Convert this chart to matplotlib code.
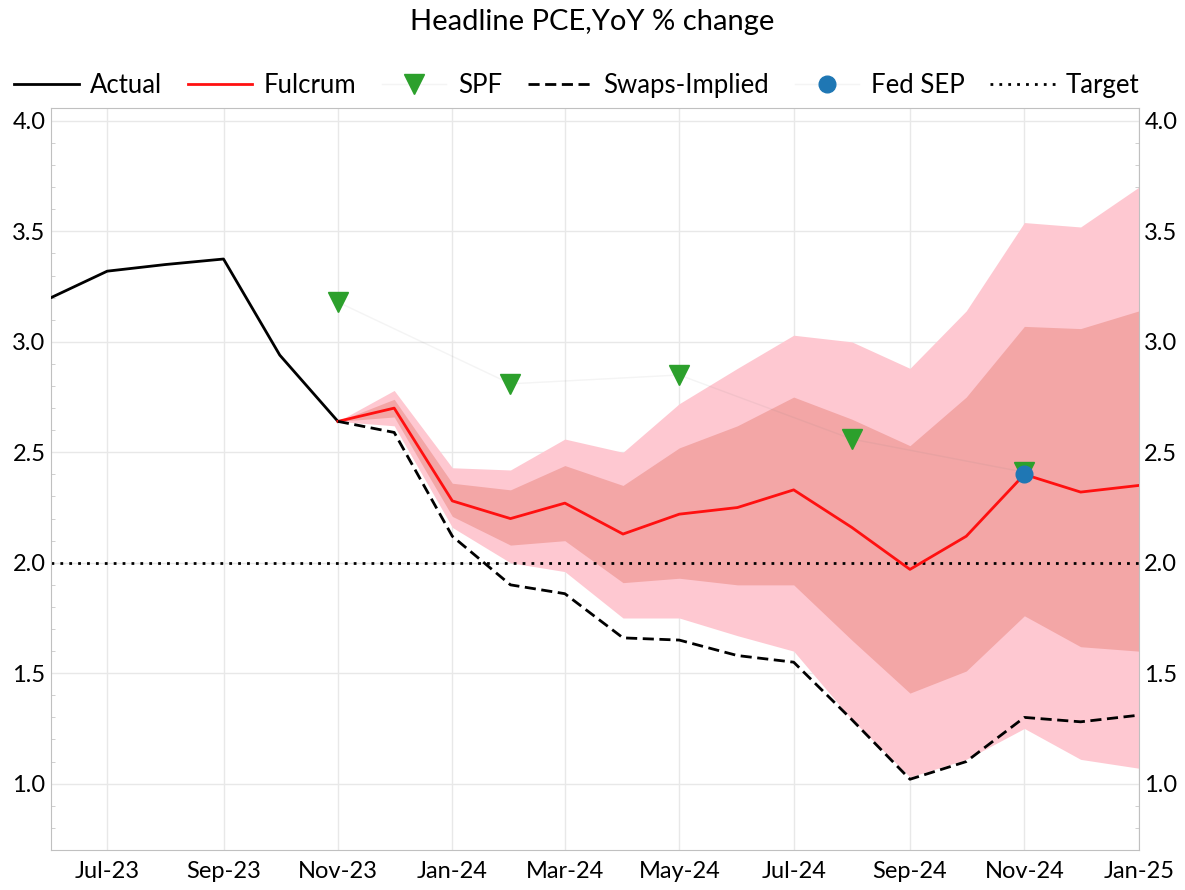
import matplotlib
matplotlib.use("Agg")
import matplotlib.pyplot as plt
import matplotlib.dates as mdates
import matplotlib.ticker as ticker
import pandas as pd

plt.rcParams['font.family'] = ['Lato', 'DejaVu Sans']

# monthly data
actual_dates = pd.date_range("2023-06-01", "2023-11-01", freq="MS")
actual = [3.20, 3.32, 3.35, 3.375, 2.94, 2.64]

fc_dates = pd.date_range("2023-11-01", "2025-01-01", freq="MS")
fulcrum = [2.64, 2.70, 2.28, 2.20, 2.27, 2.13, 2.22, 2.25, 2.33, 2.16, 1.97, 2.12, 2.40, 2.32, 2.35]
swaps = [2.64, 2.59, 2.12, 1.90, 1.86, 1.66, 1.65, 1.58, 1.55, 1.29, 1.02, 1.10, 1.30, 1.28, 1.31]
outer_hi = [2.64, 2.78, 2.43, 2.42, 2.56, 2.50, 2.72, 2.88, 3.03, 3.00, 2.88, 3.14, 3.54, 3.52, 3.70]
inner_hi = [2.64, 2.74, 2.36, 2.33, 2.44, 2.35, 2.52, 2.62, 2.75, 2.65, 2.53, 2.75, 3.07, 3.06, 3.14]
inner_lo = [2.64, 2.66, 2.21, 2.08, 2.10, 1.91, 1.93, 1.90, 1.90, 1.65, 1.41, 1.51, 1.76, 1.62, 1.60]
outer_lo = [2.64, 2.62, 2.16, 2.00, 1.96, 1.75, 1.75, 1.67, 1.60, 1.29, 1.03, 1.11, 1.25, 1.11, 1.07]

spf_dates = pd.to_datetime(["2023-11-01", "2024-02-01", "2024-05-01", "2024-08-01", "2024-11-01"])
spf = [3.18, 2.81, 2.85, 2.56, 2.41]

sep_dates = pd.to_datetime(["2024-11-01"])
fed_sep = [2.40]

target = 2.0

fig = plt.figure(figsize=(11.85, 8.9), dpi=100)
ax = fig.add_axes([0.043, 0.045, 0.918, 0.834])

ax.fill_between(fc_dates, outer_lo, outer_hi, color="#fec8d1", lw=0, zorder=1)
ax.fill_between(fc_dates, inner_lo, inner_hi, color="#f3a6a6", lw=0, zorder=1.5)

faint = (0.45, 0.45, 0.45, 0.08)
ax.plot(actual_dates, actual, color="black", lw=2, label="Actual", zorder=3)
ax.plot(fc_dates, fulcrum, color="#ff1010", lw=2, label="Fulcrum", zorder=3)
ax.plot(spf_dates, spf, color=faint, lw=1, marker="v", markersize=14,
        markerfacecolor="#2ca02c", markeredgecolor="#2ca02c", label="SPF", zorder=4)
ax.plot(fc_dates, swaps, color="black", lw=2, ls=(0, (4, 2)), label="Swaps-Implied", zorder=3)
ax.plot(sep_dates, fed_sep, color=faint, lw=1, marker="o", markersize=12,
        markerfacecolor="#1f77b4", markeredgecolor="#1f77b4", label="Fed SEP", zorder=5)
ax.axhline(target, color="black", lw=2, ls=(0, (1, 2.2)), label="Target", zorder=2)

ax.set_xlim(pd.Timestamp("2023-06-01"), pd.Timestamp("2025-01-01"))
ax.set_ylim(0.7, 4.06)

ax.xaxis.set_major_locator(mdates.MonthLocator(bymonth=[1, 3, 5, 7, 9, 11]))
ax.xaxis.set_major_formatter(mdates.DateFormatter("%b-%y"))
ax.yaxis.set_major_locator(ticker.MultipleLocator(0.5))
ax.yaxis.set_minor_locator(ticker.MultipleLocator(0.1))
ax.yaxis.set_major_formatter(ticker.FormatStrFormatter("%.1f"))

ax.grid(True, which="major", color="#e8e8e8", lw=1, zorder=0)
ax.set_axisbelow(True)
ax.tick_params(axis="both", which="both", direction="in", color="#c8c8c8",
               labelsize=17, right=True, labelright=True, pad=4)
ax.tick_params(axis="y", which="minor", length=3)
ax.tick_params(axis="y", which="major", length=0)
ax.tick_params(axis="x", which="major", length=0, pad=8)
for sp in ax.spines.values():
    sp.set_color("#c0c0c0")

fig.suptitle("Headline PCE,YoY % change", y=0.99, fontsize=21)
fig.legend(loc="upper center", bbox_to_anchor=(0.487, 0.944), ncol=6, frameon=False,
           fontsize=18.5, handlelength=2.5, columnspacing=1.0, handletextpad=0.45)

fig.savefig("out.png", dpi=100)
